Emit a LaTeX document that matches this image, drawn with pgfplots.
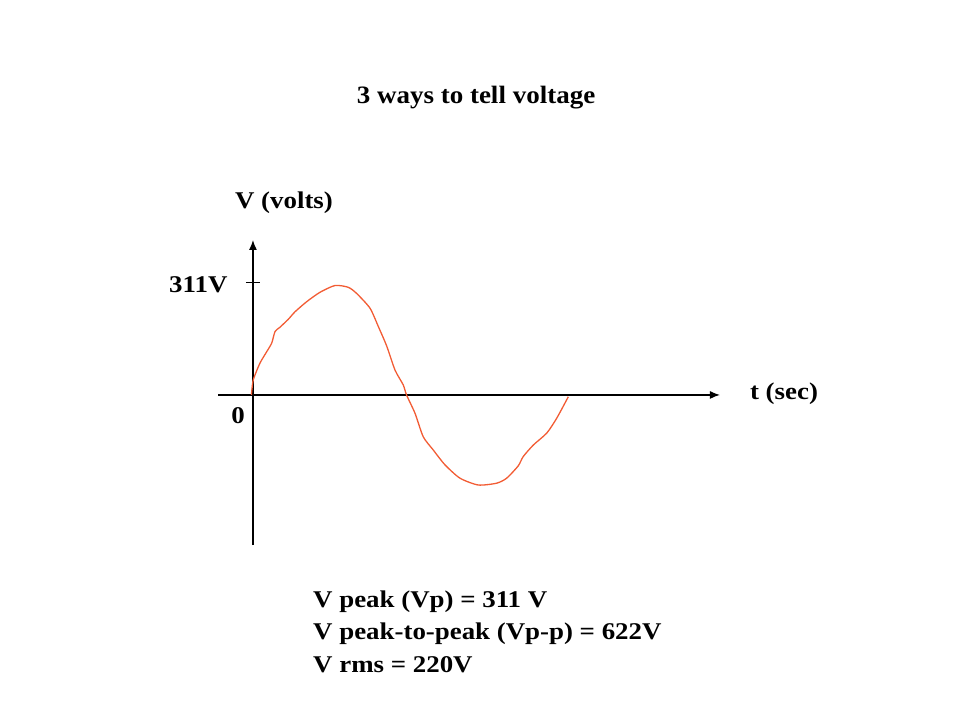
\documentclass[border=0pt]{standalone}
\usepackage{graphicx}
\usepackage{pgfplots}
\pgfplotsset{compat=1.18}
\usepackage{fontspec}
\setmainfont{Liberation Serif}
\usetikzlibrary{arrows.meta}
\definecolor{wave}{RGB}{242,92,52}
\newcommand{\lbl}[1]{\scalebox{1.12}[1]{\fontsize{24}{28}\selectfont\bfseries #1}}
\pgfplotstableread{
t V
-0.10 0
0.02 42
0.44 88
0.87 120
1.19 144
1.40 176
1.71 188
2.24 210
2.67 231
3.41 259
4.25 285
5.21 304
6.05 299
6.58 282
7.43 241
7.96 190
8.49 136
9.02 69
9.54 28
9.75 0
10.29 -51
10.81 -116
11.45 -153
12.19 -194
13.14 -231
14.30 -250
15.47 -245
16.11 -231
16.84 -197
17.16 -171
17.80 -139
18.65 -106
19.28 -65
20.02 -5
}\wavedata
\begin{document}
\begin{tikzpicture}[x=1pt,y=1pt]
\path[use as bounding box] (0,0) rectangle (960,720);
\node at (476,622) {\scalebox{1.08}[1]{\fontsize{25}{29}\selectfont\bfseries 3 ways to tell voltage}};
\begin{axis}[
  at={(218pt,175pt)}, anchor=south west,
  x=15.75pt, y=0.36013pt,
  xmin=-2.22, xmax=29.65, ymin=-416.6, ymax=430.4,
  axis lines=middle,
  axis line style={line width=1.3pt, -{Latex[length=10pt,width=8pt]}},
  xtick=\empty,
  ytick={311}, yticklabels={\lbl{311V}},
  major tick length=14pt, tick align=center,
  tick style={line width=1pt, black},
  yticklabel style={anchor=east, xshift=-15pt, yshift=-2pt},
  clip=false,
]
\addplot[wave, line width=1.3pt, smooth, tension=0.4] table[x=t,y=V] {\wavedata};
\node at (axis cs:-0.95,-56) {\lbl{0}};
\end{axis}
\node at (284,517) {\lbl{V (volts)}};
\node at (784,326) {\lbl{t (sec)}};
\node[anchor=base west, inner sep=0pt] at (313,113) {\lbl{V peak (Vp) = 311 V}};
\node[anchor=base west, inner sep=0pt] at (313,80.5) {\lbl{V peak-to-peak (Vp-p) = 622V}};
\node[anchor=base west, inner sep=0pt] at (313,48) {\lbl{V rms = 220V}};
\end{tikzpicture}
\end{document}
